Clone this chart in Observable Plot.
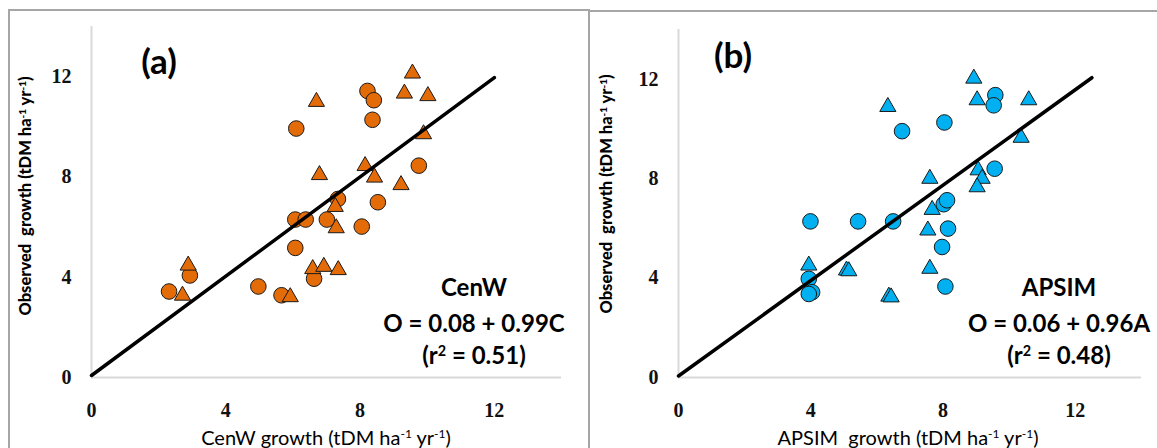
<!DOCTYPE html>
<html><head><meta charset="utf-8">
<script src="https://cdn.jsdelivr.net/npm/d3@7"></script>
<script src="https://cdn.jsdelivr.net/npm/@observablehq/plot@0.6"></script>
<style>
body{margin:0;background:#fff;}
#wrap{position:relative;width:1157px;height:448px;overflow:hidden;background:#fff;font-family:Lato,"Open Sans",sans-serif;color:#000}
.plot{position:absolute;top:0}
.t{position:absolute;white-space:nowrap;transform:translate(-50%,-50%);line-height:1}
.panel{font-size:35px;font-weight:bold}
.ann{font-size:24px;font-weight:bold}
.xt{font-size:20px}
.yt{font-size:16.5px;font-weight:900;transform:translate(-50%,-50%) rotate(-90deg)}
sup{font-size:0.6em;vertical-align:0;position:relative;top:-0.55em}
.box{position:absolute;border:2px solid #a6a6a6;box-sizing:border-box;pointer-events:none}
</style>
</head><body>
<div id="wrap"></div>
<script>
// ---- data ----
const panelLabels = ["(a)", "(b)"];
const modelNames = ["CenW", "APSIM"];
const xTitles = ["CenW growth", "APSIM\u00a0 growth"];
const yTitle = "Observed\u00a0 growth";
const intercepts = [0.08, 0.06];
const slopes = [0.99, 0.96];
const slopeLetters = ["C", "A"];
const r2 = [0.51, 0.48];
const fitXEnd = [12, 12.5];
const tickValues = [0, 4, 8, 12];
const axisMax = 14;
const colors = ["#E36C09", "#00B0F0"];

// (a) CenW
const cenwCircleX = [2.31, 2.93, 4.97, 5.66, 6.07, 6.10, 6.07, 6.38, 6.63, 7.01, 7.34, 8.05, 8.22, 8.41, 8.37, 8.53, 9.75];
const cenwCircleY = [3.43, 4.07, 3.63, 3.28, 5.17, 9.93, 6.30, 6.30, 3.94, 6.30, 7.12, 6.02, 11.43, 11.06, 10.28, 6.99, 8.45];
const cenwTriX = [2.88, 2.71, 5.92, 6.70, 6.79, 6.59, 6.92, 7.35, 7.26, 7.29, 8.15, 8.43, 9.22, 9.32, 9.56, 10.02, 9.89];
const cenwTriY = [4.47, 3.27, 3.21, 11.00, 8.08, 4.33, 4.42, 4.29, 6.81, 5.96, 8.44, 7.98, 7.68, 11.33, 12.13, 11.23, 9.71];

// (b) APSIM
const apsimCircleX = [3.99, 3.94, 4.04, 3.94, 5.43, 6.49, 6.76, 7.97, 8.02, 8.12, 8.15, 8.04, 8.07, 9.58, 9.53, 9.56];
const apsimCircleY = [6.28, 3.97, 3.43, 3.36, 6.28, 6.28, 9.91, 5.25, 6.97, 7.13, 5.99, 10.26, 3.66, 11.36, 10.95, 8.40];
const apsimTriX = [3.94, 5.08, 5.15, 6.36, 6.43, 6.33, 7.54, 7.60, 7.67, 7.60, 8.93, 9.03, 10.59, 10.36, 9.06, 9.18, 9.03];
const apsimTriY = [4.51, 4.31, 4.28, 3.26, 3.23, 10.89, 5.92, 4.38, 6.75, 8.00, 12.03, 11.16, 11.16, 9.65, 8.34, 8.00, 7.66];

// ---- layout ----
const geoms = [
  {left: 0, width: 580, ml: 91, mr: 19, mt: 26, mb: 71},
  {left: 580, width: 577, ml: 98, mr: 16, mt: 29, mb: 71}
];

function makePlot(k, cx, cy, tx, ty) {
  const g = geoms[k];
  const circles = cx.map((x, i) => ({x, y: cy[i]}));
  const tris = tx.map((x, i) => ({x, y: ty[i]}));
  const fit = [0, fitXEnd[k]].map(x => ({x, y: intercepts[k] + slopes[k] * x}));
  return Plot.plot({
    width: g.width, height: 448,
    marginLeft: g.ml, marginRight: g.mr, marginTop: g.mt, marginBottom: g.mb,
    x: {domain: [0, axisMax], ticks: tickValues, tickSize: 0, tickPadding: 25, label: null},
    y: {domain: [0, axisMax], ticks: tickValues, tickSize: 0, tickPadding: 20, label: null},
    style: {background: "transparent", fontFamily: "'Liberation Serif', serif", fontSize: "20px", fontWeight: "bold", color: "#111", overflow: "visible"},
    marks: [
      Plot.ruleY([0], {stroke: "#d9d9d9", strokeWidth: 2}),
      Plot.ruleX([0], {stroke: "#d9d9d9", strokeWidth: 2}),
      Plot.dot(circles, {x: "x", y: "y", r: 7.8, fill: colors[k], fillOpacity: 1, stroke: "#1a1a1a", strokeWidth: 1}),
      Plot.dot(tris, {x: "x", y: "y", r: 6, symbol: "triangle", fill: colors[k], fillOpacity: 1, stroke: "#1a1a1a", strokeWidth: 1}),
      Plot.line(fit, {x: "x", y: "y", stroke: "#000", strokeWidth: 3.5})
    ]
  });
}

const wrap = document.getElementById("wrap");
const data = [[cenwCircleX, cenwCircleY, cenwTriX, cenwTriY], [apsimCircleX, apsimCircleY, apsimTriX, apsimTriY]];
data.forEach((d, k) => {
  const p = makePlot(k, ...d);
  p.classList.add("plot");
  p.style.left = geoms[k].left + "px";
  wrap.appendChild(p);
});

function addText(cls, html, x, y) {
  const el = document.createElement("div");
  el.className = "t " + cls;
  el.innerHTML = html;
  el.style.left = x + "px";
  el.style.top = y + "px";
  wrap.appendChild(el);
}
const unit = " (tDM ha<sup>-1</sup> yr<sup>-1</sup>)";
const textPos = [
  {panel: [159, 60], ann: 474, yt: [25, 196], xt: [326, 437]},
  {panel: [733, 54], ann: 1059, yt: [606, 194], xt: [908, 437]}
];
[0, 1].forEach(k => {
  const tp = textPos[k];
  addText("panel", panelLabels[k], tp.panel[0], tp.panel[1]);
  addText("ann", modelNames[k], tp.ann, 287);
  addText("ann", `O = ${intercepts[k].toFixed(2)} + ${slopes[k].toFixed(2)}${slopeLetters[k]}`, tp.ann, 323);
  addText("ann", `(r<sup>2</sup> = ${r2[k].toFixed(2)})`, tp.ann, 355);
  addText("xt", xTitles[k] + unit, tp.xt[0], tp.xt[1]);
  addText("yt", yTitle + unit, tp.yt[0], tp.yt[1]);
});

// panel frames
[[8, 9, 582, 460], [588, 10, 600, 460]].forEach(([l, t, w, h]) => {
  const b = document.createElement("div");
  b.className = "box";
  Object.assign(b.style, {left: l + "px", top: t + "px", width: w + "px", height: h + "px"});
  wrap.appendChild(b);
});
</script>
</body></html>
